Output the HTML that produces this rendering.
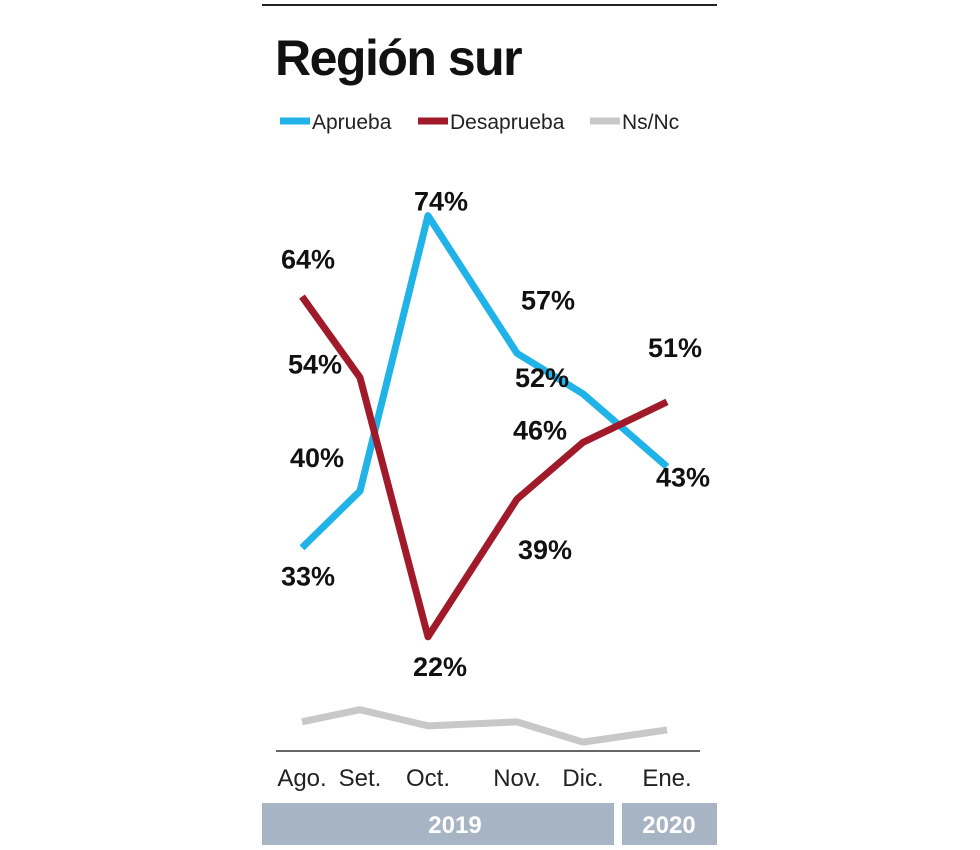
<!DOCTYPE html>
<html><head><meta charset="utf-8"><style>
html,body{margin:0;padding:0;background:#fff;}
body{width:980px;height:845px;overflow:hidden;font-family:"Liberation Sans",sans-serif;}
</style></head><body>
<svg width="980" height="845" viewBox="0 0 980 845" id="chart">
<line x1="262" y1="5" x2="717" y2="5" stroke="#222" stroke-width="2"/>
<text x="275" y="75" font-size="50" font-weight="bold" fill="#111" letter-spacing="-1.5">Región sur</text>
<g font-size="21" fill="#222">
<g><line x1="280" y1="121" x2="310" y2="121" stroke="#1fb3e8" stroke-width="7"/><text x="312" y="129">Aprueba</text></g>
<g><line x1="418" y1="121" x2="448" y2="121" stroke="#a01a2a" stroke-width="7"/><text x="450" y="129">Desaprueba</text></g>
<g><line x1="590" y1="121" x2="620" y2="121" stroke="#c8c8c8" stroke-width="7"/><text x="622" y="129">Ns/Nc</text></g>
</g>
<line x1="276" y1="751" x2="700" y2="751" stroke="#333" stroke-width="1.5"/>
<rect x="262" y="803" width="352" height="42" fill="#a6b4c3"/>
<rect x="622" y="803" width="95" height="42" fill="#a6b4c3"/>
<text x="455" y="833" font-size="24" font-weight="bold" fill="#fff" text-anchor="middle">2019</text>
<text x="669" y="833" font-size="24" font-weight="bold" fill="#fff" text-anchor="middle">2020</text>
<g id="plot"></g>
</svg>
<script>
const categories = ["Ago.","Set.","Oct.","Nov.","Dic.","Ene."];
const aprueba = [33,40,74,57,52,43];
const desaprueba = [64,54,22,39,46,51];
const nsnc = [11.5,13,11,11.5,9,10.5];

const xPos = [302,360,428,517,583,667];
function x(i){return xPos[i];}
function y(v){return 815 - 8.1*v;}
const NS="http://www.w3.org/2000/svg";
const plot=document.getElementById('plot');
function mk(t,a){const e=document.createElementNS(NS,t);for(const k in a)e.setAttribute(k,a[k]);plot.appendChild(e);return e;}

categories.forEach((c,i)=>{
  const t=mk('text',{x:x(i),y:786,'font-size':24,'text-anchor':'middle',fill:'#222'});
  t.textContent=c;
  
  
});

function line(vals,color,name){
  const p=mk('polyline',{points:vals.map((v,i)=>x(i)+','+y(v)).join(' '),fill:'none',stroke:color,'stroke-width':7,'stroke-linejoin':'round'});
  
  
}
line(nsnc,'#c8c8c8','nsnc-line');
line(aprueba,'#1fb3e8','aprueba-line');
line(desaprueba,'#a01a2a','desaprueba-line');

const apOff=[[6,38],[-43,-24],[13,-5],[31,-44],[-41,-7],[16,20]];
const deOff=[[6,-28],[-45,-4],[12,39],[28,60],[-43,-3],[8,-45]];
function labels(vals,off,name){
  vals.forEach((v,i)=>{
    const t=mk('text',{x:x(i)+off[i][0],y:y(v)+off[i][1],'font-size':27,'font-weight':'bold','text-anchor':'middle',fill:'#111'});
    t.textContent=v+'%';
    
    
  });
}
labels(aprueba,apOff,'aprueba-value-label');
labels(desaprueba,deOff,'desaprueba-value-label');
</script>
</body></html>
